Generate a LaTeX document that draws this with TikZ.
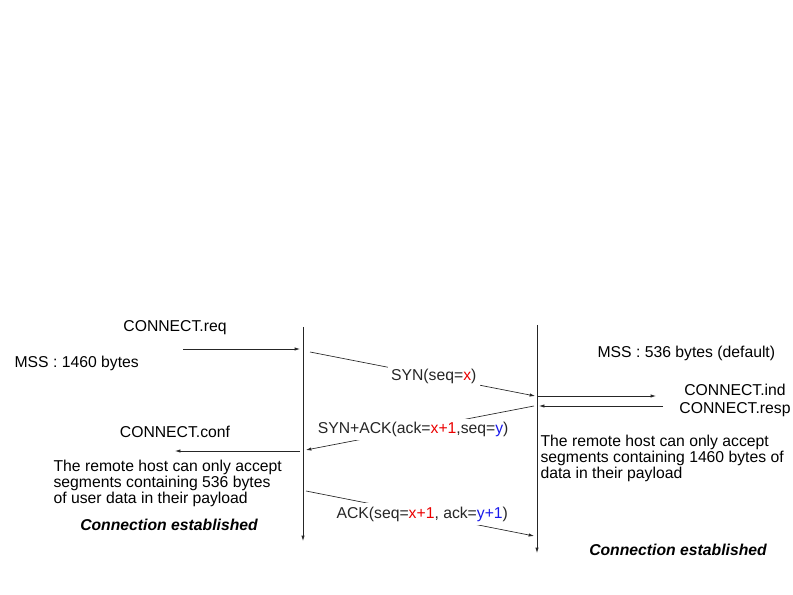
\documentclass[tikz,border=0pt]{standalone}
\usepackage{fontspec}
\setmainfont{Liberation Sans}
\usetikzlibrary{arrows.meta}
\definecolor{seqred}{RGB}{235, 0, 0}
\definecolor{ackblue}{RGB}{25, 25, 235}

\begin{document}
\begin{tikzpicture}[x=0.75pt, y=-0.75pt,
    lbl/.style={inner sep=1pt, font=\fontsize{11.8}{12}\selectfont},
    note/.style={lbl, align=left, anchor=north west},
    established/.style={inner sep=1pt, font=\fontsize{11.8}{12}\selectfont\bfseries\itshape},
    msglbl/.style={lbl, fill=white, inner sep=2.5pt},
    lifeline/.style={-{Latex[length=4pt, width=2.5pt]}, line width=0.5pt, black!85},
    arrow/.style={-{Latex[length=4pt, width=2.5pt]}, line width=0.5pt, black!85}
]
    \useasboundingbox (0,0) rectangle (793,595);

    % Lifelines
    \coordinate (Atop) at (303,327);
    \coordinate (Abot) at (303,541);
    \coordinate (Btop) at (537,325);
    \coordinate (Bbot) at (537,553);
    \draw[lifeline] (Atop) -- (Abot);
    \draw[lifeline] (Btop) -- (Bbot);

    % Texts
    \node[lbl] (req) at (175,328) {CONNECT.req};
    \node[lbl, anchor=west] (mssA) at (13,363) {MSS : 1460 bytes};
    \node[lbl, anchor=west] (mssB) at (596,353) {MSS : 536 bytes (default)};
    \node[lbl] (ind) at (735,390) {CONNECT.ind};
    \node[lbl] (resp) at (735,410) {CONNECT.resp};
    \node[lbl] (conf) at (175,432) {CONNECT.conf};
    \node[note] (noteA) at (52,458) {The remote host can only accept\\segments containing 536 bytes\\of user data in their payload};
    \node[note] (noteB) at (539,433) {The remote host can only accept\\segments containing 1460 bytes of\\data in their payload};
    \node[established] (estA) at (169,525) {Connection established};
    \node[established] (estB) at (678,550) {Connection established};

    % Message end points
    \coordinate (reqS) at (183,349);
    \coordinate (reqE) at (300,349);
    \coordinate (synS) at (310,352);
    \coordinate (synE) at (535,396);
    \coordinate (indS) at (538,396);
    \coordinate (indE) at (656,396);
    \coordinate (respS) at (663,406);
    \coordinate (respE) at (539,406);
    \coordinate (sackS) at (534,406);
    \coordinate (sackE) at (306,450);
    \coordinate (confS) at (300,451);
    \coordinate (confE) at (175,451);
    \coordinate (ackS) at (306,491);
    \coordinate (ackE) at (534,536);

    % Messages
    \draw[arrow] (reqS) -- (reqE);
    \draw[arrow] (synS) -- node[msglbl, pos=0.55] (syn) {SYN(seq=\textcolor{seqred}{x})} (synE);
    \draw[arrow] (indS) -- (indE);
    \draw[arrow] (respS) -- (respE);
    \draw[arrow] (sackS) -- node[msglbl, pos=0.53] (synack) {SYN+ACK(ack=\textcolor{seqred}{x+1},seq=\textcolor{ackblue}{y})} (sackE);
    \draw[arrow] (confS) -- (confE);
    \draw[arrow] (ackS) -- node[msglbl, pos=0.51] (ack) {ACK(seq=\textcolor{seqred}{x+1}, ack=\textcolor{ackblue}{y+1})} (ackE);
\end{tikzpicture}
\end{document}
